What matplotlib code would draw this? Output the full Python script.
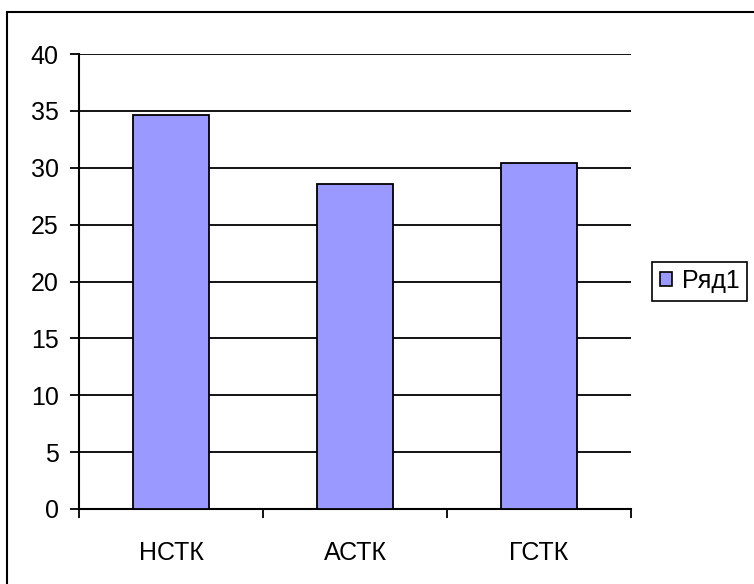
import matplotlib
matplotlib.use("Agg")
import matplotlib.pyplot as plt
from matplotlib.patches import Patch, Rectangle

categories = ['НСТК', 'АСТК', 'ГСТК']
values = [34.6, 28.6, 30.4]
series_name = 'Ряд1'
y_ticks = [0, 5, 10, 15, 20, 25, 30, 35, 40]

plt.rcParams['font.family'] = ['Liberation Sans', 'DejaVu Sans']

W, H = 754, 584
fig = plt.figure(figsize=(W / 100, H / 100), dpi=100)
ax = fig.add_axes([79 / W, 1 - 509 / H, (631 - 79) / W, (509 - 54) / H])

bar_color = '#9999FF'
x = list(range(len(categories)))
ax.bar(x, values, width=0.41, color=bar_color, edgecolor='black', linewidth=1.3, zorder=3)

ax.set_xlim(-0.5, len(categories) - 0.5)
ax.set_ylim(0, 40)
ax.set_yticks(y_ticks)
ax.yaxis.grid(True, color='black', linewidth=1.3, zorder=0)
ax.set_axisbelow(True)

# ticks at category boundaries, labels at centres
ax.set_xticks([i - 0.5 for i in range(len(categories) + 1)])
ax.set_xticklabels([])
ax.set_xticks(x, minor=True)
ax.set_xticklabels(categories, minor=True, fontsize=18)
ax.tick_params(axis='x', which='minor', length=0, pad=23)
ax.tick_params(axis='x', which='major', length=6.5, width=1.3, direction='out')
ax.tick_params(axis='y', length=6.5, width=1.3, direction='out', labelsize=18, pad=8)

for s in ['top', 'right']:
    ax.spines[s].set_visible(False)
for s in ['left', 'bottom']:
    ax.spines[s].set_linewidth(1.5)

# outer chart frame (cropped on the right and bottom)
fig.patches.append(Rectangle((7 / W, -0.1), 1.2, 1.1 - 12 / H, transform=fig.transFigure,
                             fill=False, edgecolor='black', linewidth=1.5))

handle = Patch(facecolor=bar_color, edgecolor='black', linewidth=1.2)
fig.legend([handle], [series_name], loc='center left',
           bbox_to_anchor=(652 / W, 1 - 281 / H), fontsize=18,
           frameon=True, fancybox=False, edgecolor='black', framealpha=1,
           handlelength=0.5, handleheight=0.5, handletextpad=0.4,
           borderpad=0.3, borderaxespad=0)
fig.legends[0].get_frame().set_linewidth(1.2)

fig.savefig('out.png', dpi=100)
